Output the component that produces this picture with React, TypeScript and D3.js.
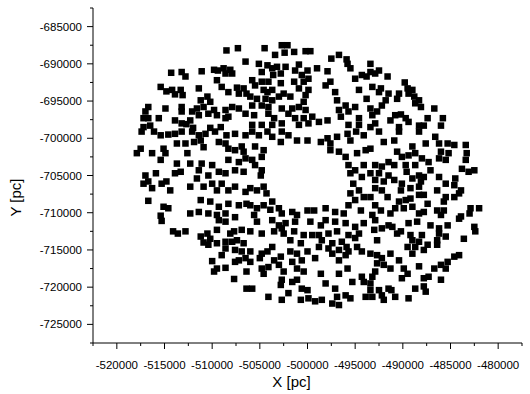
import React from "react";
import * as d3 from "d3";

// positions, in kpc (x1000 -> pc)
const points: [number, number][] = [
  // upper left
  [-508.5,-688.2],[-507.3,-687.9],[-506.5,-689.7],[-514.3,-691.2],[-513.2,-691.1],[-512.8,-691.7],[-511.1,-691.0],
  [-509.8,-690.8],[-509.4,-690.9],[-508.8,-690.6],[-508.1,-690.8],[-508.6,-691.3],[-507.9,-691.3],[-509.5,-692.2],
  [-515.4,-693.1],[-514.8,-693.7],[-514.2,-693.5],[-513.9,-694.1],[-513.3,-693.5],[-513.1,-694.2],[-511.4,-693.3],
  [-509.0,-693.1],[-508.3,-693.8],[-507.4,-693.2],[-506.7,-693.3],[-507.2,-694.0],[-506.4,-694.0],[-511.2,-694.9],
  [-510.5,-694.4],[-510.2,-695.1],[-510.9,-695.8],[-511.6,-696.0],[-512.1,-696.4],[-513.2,-695.8],[-513.2,-696.4],
  [-511.4,-696.9],[-516.7,-695.8],[-514.9,-696.0],[-517.0,-696.4],[-517.2,-697.3],[-516.7,-697.3],[-515.6,-697.3],
  [-513.9,-697.6],[-513.2,-698.0],[-512.3,-697.6],[-512.7,-698.1],[-510.4,-696.7],[-509.8,-696.2],[-509.5,-696.9],
  [-508.6,-696.2],[-507.9,-695.8],[-507.2,-696.0],[-508.3,-697.1],[-508.6,-697.3],[-506.5,-696.7],[-517.2,-698.5],
  [-516.5,-698.3],[-512.0,-698.6],[-510.2,-698.6],[-509.1,-698.5],
  // upper middle
  [-504.5,-687.9],[-502.7,-687.5],[-502.1,-687.5],[-503.4,-688.8],[-502.4,-688.5],[-501.4,-688.4],[-500.2,-688.3],
  [-499.7,-688.3],[-497.5,-689.3],[-496.7,-688.8],[-495.9,-689.4],[-495.8,-690.0],[-495.5,-690.6],[-505.1,-690.0],
  [-504.2,-690.2],[-503.7,-690.6],[-503.2,-690.4],[-502.3,-690.4],[-500.9,-690.1],[-501.3,-690.9],[-500.0,-690.9],
  [-499.0,-690.6],[-497.9,-691.0],[-504.8,-691.1],[-503.6,-691.5],[-502.8,-691.3],[-500.6,-691.5],[-499.9,-692.0],
  [-501.4,-692.4],[-500.4,-692.4],[-505.8,-692.2],[-505.5,-692.9],[-504.8,-692.4],[-504.1,-692.4],[-502.8,-692.6],
  [-498.1,-692.9],[-497.6,-692.4],[-495.0,-692.0],[-494.3,-691.5],[-493.8,-691.7],[-504.6,-693.5],[-504.2,-693.8],
  [-503.7,-693.5],[-502.5,-694.0],[-500.9,-693.3],[-499.9,-693.5],[-500.2,-694.2],[-497.1,-693.8],[-494.6,-693.5],
  [-506.0,-694.4],[-505.3,-694.7],[-504.4,-694.7],[-503.7,-694.9],[-503.0,-694.4],[-501.8,-694.4],[-500.4,-695.1],
  [-496.9,-694.9],[-496.0,-695.6],[-493.8,-694.7],[-505.8,-695.6],[-504.8,-695.6],[-504.1,-695.8],[-502.7,-696.0],
  [-501.6,-696.0],[-500.9,-695.8],[-500.2,-696.2],[-496.7,-696.2],[-495.7,-696.4],[-495.0,-695.8],[-505.6,-696.9],
  [-504.1,-696.7],[-503.5,-697.3],[-502.0,-696.7],[-501.3,-697.3],[-500.4,-697.3],[-499.5,-697.1],[-496.5,-697.1],
  [-494.6,-697.3],[-505.8,-698.2],[-504.8,-698.2],[-503.7,-698.2],[-502.7,-698.0],[-500.9,-698.2],[-499.9,-698.0],
  [-498.8,-697.8],[-497.9,-697.6],[-495.7,-698.2],[-494.6,-698.2],
  // upper right
  [-493.4,-690.0],[-493.4,-691.1],[-492.9,-691.3],[-492.5,-690.9],[-491.6,-691.7],[-489.8,-692.5],[-489.5,-693.3],
  [-489.0,-693.5],[-493.2,-693.1],[-492.3,-693.3],[-492.5,-693.8],[-491.5,-694.0],[-490.4,-694.0],[-490.6,-694.7],
  [-489.4,-694.0],[-488.8,-694.4],[-488.3,-694.9],[-488.7,-695.3],[-488.1,-695.8],[-491.8,-694.9],[-492.2,-695.6],
  [-486.7,-696.0],[-493.4,-696.0],[-492.7,-696.4],[-493.2,-696.9],[-490.8,-696.9],[-490.2,-696.8],[-489.7,-697.3],
  [-491.3,-697.6],[-489.4,-697.8],[-487.4,-697.3],[-485.8,-697.3],[-492.9,-698.0],[-493.4,-698.5],[-490.4,-698.5],
  [-488.3,-698.3],[-487.8,-698.3],[-486.0,-698.3],
  // middle left
  [-517.4,-699.1],[-516.1,-699.1],[-515.4,-699.6],[-514.6,-699.5],[-513.9,-699.4],[-513.2,-699.1],[-512.1,-699.1],
  [-511.4,-699.6],[-510.7,-699.4],[-509.7,-699.1],[-508.5,-699.6],[-507.6,-699.4],[-506.5,-699.6],[-517.5,-701.4],
  [-517.9,-702.0],[-516.3,-702.0],[-515.1,-701.4],[-514.9,-702.0],[-513.7,-700.7],[-512.8,-700.7],[-512.6,-702.0],
  [-511.9,-700.5],[-511.2,-700.3],[-510.9,-701.2],[-509.3,-700.5],[-508.6,-700.7],[-508.3,-701.4],[-507.6,-701.6],
  [-506.9,-701.1],[-506.7,-701.8],[-515.4,-702.9],[-513.7,-703.4],[-512.3,-703.4],[-511.1,-703.4],[-510.0,-703.6],
  [-508.3,-702.9],[-507.2,-703.2],[-506.5,-702.7],[-517.0,-705.0],[-515.9,-704.7],[-513.9,-704.7],[-513.3,-704.5],
  [-511.4,-704.3],[-510.4,-705.0],[-509.3,-704.5],[-508.6,-704.7],[-507.6,-704.3],[-506.7,-704.5],[-517.2,-706.1],
  [-516.7,-705.8],[-515.3,-706.1],[-514.8,-705.8],[-514.4,-707.0],[-516.3,-706.7],[-512.3,-706.5],[-511.6,-705.4],
  [-510.9,-706.5],[-510.0,-706.1],[-509.5,-707.0],[-509.0,-706.1],[-508.3,-707.0],[-507.6,-706.5],[-506.5,-707.2],
  [-516.7,-708.4],[-515.1,-709.2],[-514.6,-709.4],[-511.2,-708.3],[-510.2,-708.5],[-509.3,-709.2],[-508.3,-708.8],
  [-507.2,-709.0],[-506.4,-708.8],[-512.3,-710.1],[-511.4,-709.9],[-510.4,-710.1],[-509.5,-710.3],[-508.6,-710.1],
  [-507.6,-710.6],[-515.4,-710.4],
  // centre ring
  [-505.8,-699.1],[-505.1,-699.6],[-504.2,-699.1],[-503.7,-699.8],[-502.7,-699.1],[-502.8,-700.5],[-502.0,-699.6],
  [-501.1,-700.3],[-500.0,-700.3],[-498.6,-700.5],[-497.9,-700.0],[-497.6,-700.7],[-496.9,-699.8],[-495.8,-699.4],
  [-494.9,-699.1],[-494.1,-699.6],[-495.5,-700.3],[-505.5,-701.1],[-504.6,-701.6],[-504.8,-702.5],[-505.8,-702.9],
  [-505.5,-703.6],[-504.8,-704.3],[-504.9,-705.0],[-497.6,-701.6],[-496.7,-701.8],[-496.0,-702.5],[-494.8,-702.0],
  [-493.9,-701.6],[-495.7,-703.6],[-495.0,-704.3],[-494.1,-703.6],[-495.5,-704.7],[-494.3,-705.2],[-506.0,-706.7],
  [-505.3,-707.0],[-504.6,-706.5],[-504.3,-707.4],[-495.2,-706.1],[-494.6,-707.0],[-495.5,-707.4],[-494.1,-707.9],
  [-495.0,-708.3],[-495.7,-709.0],[-506.0,-709.0],[-505.3,-709.4],[-504.6,-709.0],[-503.7,-708.5],[-503.9,-709.6],
  [-503.0,-709.4],[-502.7,-710.1],[-501.6,-709.9],[-501.1,-710.3],[-500.0,-709.7],[-499.3,-709.7],[-498.1,-709.4],
  [-497.1,-709.9],[-496.2,-710.1],[-494.4,-709.7],[-505.6,-710.3],
  // middle right
  [-492.5,-699.1],[-490.4,-699.1],[-488.3,-699.1],[-486.6,-699.8],[-492.0,-700.5],[-490.9,-700.3],[-489.0,-701.1],
  [-487.6,-700.7],[-486.2,-700.7],[-485.3,-700.7],[-484.6,-700.9],[-483.4,-700.9],[-493.4,-701.4],[-490.6,-701.8],
  [-490.1,-702.5],[-489.4,-702.3],[-488.7,-702.0],[-488.0,-702.7],[-487.3,-703.2],[-486.0,-701.8],[-486.2,-702.7],
  [-485.2,-702.0],[-485.5,-702.9],[-483.3,-702.0],[-483.4,-702.9],[-492.9,-703.6],[-492.2,-703.8],[-491.5,-703.2],
  [-490.9,-703.6],[-489.7,-703.6],[-488.7,-703.6],[-483.8,-704.1],[-483.1,-704.5],[-482.5,-704.3],[-493.4,-704.7],
  [-492.5,-704.7],[-491.5,-705.0],[-489.6,-704.5],[-488.3,-705.0],[-487.1,-704.3],[-486.2,-705.2],[-484.5,-705.4],
  [-492.9,-705.6],[-492.0,-705.8],[-490.9,-705.6],[-490.1,-706.1],[-489.0,-705.4],[-488.1,-705.8],[-487.8,-705.2],
  [-485.5,-706.1],[-484.6,-706.3],[-492.9,-706.7],[-492.2,-707.0],[-490.2,-707.0],[-489.2,-706.7],[-488.3,-706.5],
  [-486.4,-707.0],[-483.9,-707.0],[-493.4,-707.9],[-491.6,-707.9],[-488.3,-707.6],[-487.8,-707.6],[-485.5,-707.9],
  [-484.6,-707.9],[-484.1,-707.4],[-490.4,-708.5],[-489.7,-708.3],[-489.2,-708.1],[-487.4,-708.8],[-485.7,-708.5],
  [-492.9,-709.0],[-492.3,-709.7],[-490.8,-709.4],[-489.9,-709.4],[-489.0,-709.2],[-486.4,-709.7],[-485.7,-709.7],
  [-482.9,-709.4],[-482.0,-709.4],[-493.2,-710.3],[-491.3,-710.1],[-488.3,-710.1],[-487.8,-709.9],[-486.0,-710.3],
  [-483.9,-710.5],[-483.0,-710.1],
  // lower left
  [-515.3,-711.1],[-514.1,-712.5],[-513.6,-712.8],[-512.8,-712.5],[-511.2,-713.2],[-510.5,-712.8],[-510.2,-713.5],
  [-510.4,-714.3],[-510.9,-714.0],[-509.5,-714.1],[-509.3,-711.0],[-508.6,-711.2],[-509.5,-712.3],[-508.1,-712.8],
  [-507.7,-712.5],[-506.9,-712.3],[-508.6,-713.9],[-507.9,-713.9],[-507.4,-713.7],[-506.7,-714.1],[-508.6,-714.8],
  [-507.6,-715.0],[-506.9,-715.2],[-509.0,-715.7],[-510.0,-716.5],[-507.6,-716.6],[-507.2,-716.4],[-506.5,-716.1],
  [-508.6,-717.4],[-509.8,-717.9],[-509.5,-717.5],[-506.4,-717.9],[-507.7,-718.9],[-506.4,-720.2],
  // lower middle
  [-505.3,-711.2],[-503.7,-711.0],[-503.0,-711.7],[-502.3,-711.4],[-501.3,-711.2],[-499.7,-711.2],[-498.6,-711.7],
  [-498.1,-711.0],[-497.1,-711.2],[-496.0,-711.4],[-495.0,-711.9],[-494.1,-711.4],[-506.0,-712.5],[-504.8,-712.8],
  [-503.5,-712.5],[-502.7,-712.1],[-502.5,-712.8],[-501.4,-712.5],[-500.4,-713.0],[-499.5,-713.0],[-498.8,-713.0],
  [-497.8,-712.8],[-496.9,-712.5],[-495.7,-713.0],[-494.6,-712.8],[-501.8,-713.7],[-500.7,-714.1],[-498.5,-713.7],
  [-497.4,-714.1],[-496.4,-713.9],[-495.0,-713.4],[-503.7,-714.6],[-498.8,-714.6],[-497.8,-714.8],[-496.7,-715.0],
  [-495.9,-714.6],[-494.8,-714.6],[-506.0,-715.2],[-504.8,-715.5],[-504.2,-715.2],[-502.8,-715.9],[-501.8,-715.2],
  [-501.1,-715.5],[-500.0,-715.2],[-499.2,-716.1],[-497.4,-715.5],[-496.0,-715.7],[-495.7,-715.2],[-494.3,-715.2],
  [-505.0,-716.1],[-503.5,-716.4],[-501.6,-716.6],[-500.6,-716.4],[-496.7,-716.4],[-506.0,-716.6],[-504.8,-717.5],
  [-504.1,-717.3],[-503.0,-717.0],[-504.6,-718.2],[-502.5,-717.9],[-501.1,-717.5],[-500.4,-717.9],[-498.6,-718.2],
  [-496.7,-718.2],[-495.8,-717.5],[-494.3,-718.6],[-502.7,-719.0],[-501.6,-719.3],[-501.1,-719.0],[-498.1,-719.5],
  [-495.3,-719.3],[-494.1,-719.3],[-505.8,-720.2],[-502.8,-719.7],[-500.6,-720.2],[-500.0,-720.4],[-497.1,-720.2],
  [-502.0,-720.8],[-504.1,-721.3],[-496.9,-721.3],[-496.0,-721.1],[-495.5,-721.5],[-502.7,-721.7],[-500.7,-721.7],
  [-499.9,-721.5],[-499.2,-721.9],[-498.5,-721.7],[-497.4,-722.2],[-496.7,-722.4],[-493.9,-721.3],
  // lower right
  [-492.9,-711.0],[-491.5,-711.7],[-491.1,-711.9],[-489.4,-711.4],[-488.5,-711.2],[-487.1,-711.7],[-486.2,-712.1],
  [-485.3,-711.7],[-484.1,-710.8],[-482.5,-711.9],[-482.4,-712.5],[-493.0,-712.3],[-492.2,-712.1],[-490.2,-712.5],
  [-490.6,-712.8],[-489.2,-713.0],[-488.0,-713.0],[-486.2,-712.8],[-485.5,-713.2],[-492.7,-713.7],[-489.0,-713.7],
  [-488.3,-713.9],[-487.4,-714.3],[-486.4,-713.7],[-483.6,-713.5],[-489.5,-714.6],[-488.7,-714.6],[-487.8,-715.0],
  [-486.4,-714.3],[-489.0,-715.5],[-493.4,-715.5],[-492.7,-715.7],[-492.2,-716.1],[-491.3,-715.5],[-490.4,-716.4],
  [-484.6,-715.9],[-484.1,-715.7],[-485.3,-716.6],[-492.7,-716.8],[-492.0,-717.0],[-491.3,-717.5],[-489.9,-717.5],
  [-488.3,-717.2],[-486.7,-717.5],[-486.0,-717.0],[-485.5,-717.5],[-492.9,-717.9],[-489.5,-718.2],[-493.2,-718.6],
  [-490.1,-718.8],[-487.8,-718.8],[-487.3,-718.6],[-486.0,-719.0],[-493.4,-719.5],[-493.4,-720.4],[-492.5,-720.4],
  [-491.5,-720.2],[-491.2,-720.4],[-488.7,-720.2],[-487.8,-719.9],[-487.6,-720.6],[-493.2,-721.3],[-492.2,-721.1],
  [-492.0,-721.7],[-490.8,-721.3],[-489.4,-721.5],
];

const xTicks = [-520000, -515000, -510000, -505000, -500000, -495000, -490000, -485000, -480000];
const yTicks = [-685000, -690000, -695000, -700000, -705000, -710000, -715000, -720000, -725000];
const xDomain = [-522500, -477500];
const yDomain = [-727500, -682500];
const xTitle = "X [pc]";
const yTitle = "Y [pc]";

const W = 530, H = 394;
const left = 93, right = 522, top = 8, bottom = 343;
const font = "'Liberation Sans', Arial, sans-serif";

export default function App() {
  const x = d3.scaleLinear().domain(xDomain).range([left, right]);
  const y = d3.scaleLinear().domain(yDomain).range([bottom, top]);
  const xMinor = d3.range(xDomain[0], xDomain[1] + 1, 2500).filter(v => !xTicks.includes(v));
  const yMinor = d3.range(yDomain[0], yDomain[1] + 1, 2500).filter(v => !yTicks.includes(v));
  const s = 6.5;

  return (
    <svg width={W} height={H} style={{ position: "absolute", left: 0, top: 0, background: "#fff" }}>
      <g>
        {points.map((p, i) => (
          <rect key={i} x={x(p[0] * 1000) - s / 2} y={y(p[1] * 1000) - s / 2} width={s} height={s} fill="#000" />
        ))}
      </g>
      {/* y axis */}
      <line x1={left} x2={left} y1={top} y2={bottom} stroke="#000" strokeWidth={1} />
      {yTicks.map(t => (
        <g key={t}>
          <line x1={left - 6} x2={left} y1={y(t)} y2={y(t)} stroke="#000" />
          <text x={left - 11} y={y(t)} dy="0.35em" textAnchor="end" fontFamily={font} fontSize={11.5}>{t}</text>
        </g>
      ))}
      {yMinor.map(t => <line key={t} x1={left - 3} x2={left} y1={y(t)} y2={y(t)} stroke="#000" />)}
      {/* x axis */}
      <line x1={left} x2={right} y1={bottom} y2={bottom} stroke="#000" strokeWidth={1} />
      {xTicks.map(t => (
        <g key={t}>
          <line x1={x(t)} x2={x(t)} y1={bottom} y2={bottom + 6} stroke="#000" />
          <text x={x(t)} y={bottom + 26} textAnchor="middle" fontFamily={font} fontSize={11.5}>{t}</text>
        </g>
      ))}
      {xMinor.map(t => <line key={t} x1={x(t)} x2={x(t)} y1={bottom} y2={bottom + 3} stroke="#000" />)}
      <text x={(left + right) / 2 - 16} y={387} textAnchor="middle" fontFamily={font} fontSize={15}>{xTitle}</text>
      <text transform={`translate(21,${(top + bottom) / 2 + 22}) rotate(-90)`} textAnchor="middle" fontFamily={font} fontSize={15}>{yTitle}</text>
    </svg>
  );
}
